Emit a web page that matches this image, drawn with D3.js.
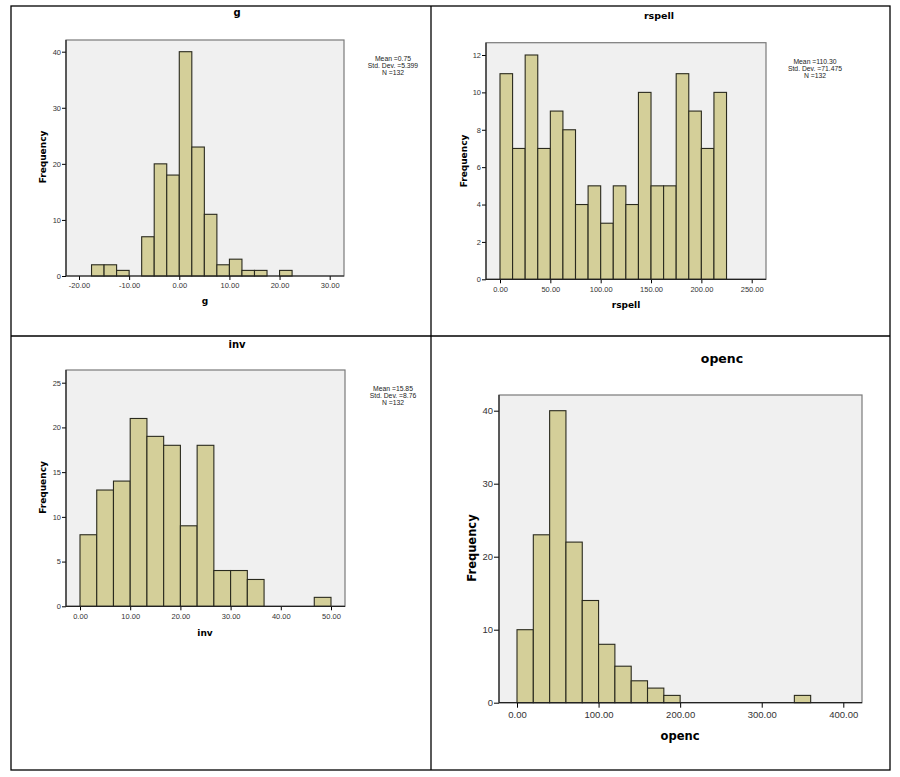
<!DOCTYPE html>
<html>
<head>
<meta charset="utf-8">
<script src="https://cdn.jsdelivr.net/npm/d3@7"></script>
<style>
  body { margin: 0; background: #fff; }
</style>
</head>
<body>
<script>
const width = 900
const height = 777

// bin counts (zero bins are not drawn)
const gStart = -17.5, gStep = 2.5
const gCounts = [2, 2, 1, 0, 7, 20, 18, 40, 23, 11, 2, 3, 1, 1, 0, 1]
const gXTicks = [-20, -10, 0, 10, 20, 30]
const gYTicks = [0, 10, 20, 30, 40]
const gStats = ["Mean =0.75", "Std. Dev. =5.399", "N =132"]

const rspellStart = 0, rspellStep = 12.5
const rspellCounts = [11, 7, 12, 7, 9, 8, 4, 5, 3, 5, 4, 10, 5, 5, 11, 9, 7, 10]
const rspellXTicks = [0, 50, 100, 150, 200, 250]
const rspellYTicks = [0, 2, 4, 6, 8, 10, 12]
const rspellStats = ["Mean =110.30", "Std. Dev. =71.475", "N =132"]

const invStart = 0, invStep = 10 / 3
const invCounts = [8, 13, 14, 21, 19, 18, 9, 18, 4, 4, 3, 0, 0, 0, 1]
const invXTicks = [0, 10, 20, 30, 40, 50]
const invYTicks = [0, 5, 10, 15, 20, 25]
const invStats = ["Mean =15.85", "Std. Dev. =8.76", "N =132"]

const opencStart = 0, opencStep = 20
const opencCounts = [10, 23, 40, 22, 14, 8, 5, 3, 2, 1, 0, 0, 0, 0, 0, 0, 0, 1]
const opencXTicks = [0, 100, 200, 300, 400]
const opencYTicks = [0, 10, 20, 30, 40]

const svg = d3.select("body").append("svg")
    .attr("width", width)
    .attr("height", height)

// table grid around the four charts
const grid = svg.append("g").attr("stroke", "#000").attr("stroke-width", 1.3).attr("fill", "none")
grid.append("rect").attr("x", 11).attr("y", 6).attr("width", 879).attr("height", 764)
grid.append("line").attr("x1", 431).attr("x2", 431).attr("y1", 6).attr("y2", 770)
grid.append("line").attr("x1", 11).attr("x2", 890).attr("y1", 336).attr("y2", 336)

const boldFont = "DejaVu Sans, Verdana, sans-serif"
const plainFont = "Liberation Sans, Arial, sans-serif"

function histogram(o) {
    const x = d3.scaleLinear().domain(d3.extent(o.xTicks)).range(o.xRange)
    const y = d3.scaleLinear().domain(d3.extent(o.yTicks)).range(o.yRange)
    const f = o.frame
    const g = svg.append("g")

    if (o.clip) {
        svg.append("clipPath").attr("id", o.clip.id)
          .append("rect").attr("x", 0).attr("y", 0).attr("width", o.clip.x).attr("height", height)
    }

    g.append("rect")
        .attr("x", f.x0).attr("y", f.y0)
        .attr("width", f.x1 - f.x0).attr("height", f.y1 - f.y0)
        .attr("fill", "#f0f0f0")
        .attr("stroke", "#7a7a7a")
        .attr("stroke-width", 1.2)

    const bins = o.counts.map((n, i) => ({x0: o.start + i * o.step, x1: o.start + (i + 1) * o.step, n}))
        .filter(d => d.n > 0)

    g.append("g")
      .selectAll("rect")
      .data(bins)
      .join("rect")
        .attr("x", d => x(d.x0))
        .attr("y", d => y(d.n))
        .attr("width", d => x(d.x1) - x(d.x0))
        .attr("height", d => y(0) - y(d.n))
        .attr("fill", "#d4cf99")
        .attr("stroke", "#2a2a1e")
        .attr("stroke-width", 1.1)

    let xAxis = a => a
        .attr("transform", `translate(0,${f.y1})`)
        .call(d3.axisBottom(x).tickValues(o.xTicks).tickFormat(d => d.toFixed(2))
            .tickSize(o.tick).tickPadding(o.xPad))
        .call(a => a.select(".domain").remove())
        .call(a => a.append("line").attr("x1", f.x0).attr("x2", f.x1).attr("stroke", "#222").attr("stroke-width", 1.2))
        .call(a => a.selectAll("text").attr("fill", "#333"))
        .attr("font-family", plainFont)
        .attr("font-size", o.tickFont)

    let yAxis = a => a
        .attr("transform", `translate(${f.x0},0)`)
        .call(d3.axisLeft(y).tickValues(o.yTicks).tickFormat(d3.format("d"))
            .tickSize(o.tick).tickPadding(1))
        .call(a => a.select(".domain").remove())
        .call(a => a.append("line").attr("y1", f.y0).attr("y2", f.y1).attr("stroke", "#222").attr("stroke-width", 1.2))
        .call(a => a.selectAll("text").attr("fill", "#333"))
        .attr("font-family", plainFont)
        .attr("font-size", o.tickFont)

    g.append("g").call(xAxis)
    g.append("g").call(yAxis)

    g.append("text")
        .attr("x", o.titlePos[0]).attr("y", o.titlePos[1])
        .attr("text-anchor", "middle")
        .attr("font-family", boldFont).attr("font-weight", "bold")
        .attr("font-size", o.titleFont)
        .text(o.title)

    g.append("text")
        .attr("x", o.xLabelPos[0]).attr("y", o.xLabelPos[1])
        .attr("text-anchor", "middle")
        .attr("font-family", boldFont).attr("font-weight", "bold")
        .attr("font-size", o.labelFont)
        .text(o.title)

    g.append("text")
        .attr("transform", `translate(${o.yLabelPos[0]},${o.yLabelPos[1]}) rotate(-90)`)
        .attr("text-anchor", "middle")
        .attr("dominant-baseline", "central")
        .attr("font-family", boldFont).attr("font-weight", "bold")
        .attr("font-size", o.labelFont)
        .text("Frequency")

    if (o.stats) {
        const s = g.append("g")
            .attr("font-family", plainFont)
            .attr("font-size", 6.8)
            .attr("fill", "#222")
            .attr("text-anchor", "middle")
        if (o.clip) s.attr("clip-path", `url(#${o.clip.id})`)
        s.selectAll("text")
          .data(o.stats)
          .join("text")
            .attr("x", o.statsPos[0])
            .attr("y", (d, i) => o.statsPos[1] + i * 7.2)
            .text(d => d)
    }
}

histogram({
    title: "g", counts: gCounts, start: gStart, step: gStep,
    xTicks: gXTicks, yTicks: gYTicks, stats: gStats,
    xRange: [79, 329.7], yRange: [276, 51.7],
    frame: {x0: 66, x1: 344, y0: 40, y1: 276},
    tick: 4, xPad: 3, tickFont: 7.5, titleFont: 10, labelFont: 9,
    titlePos: [237, 16], xLabelPos: [205, 304], yLabelPos: [43, 157],
    statsPos: [393, 60.5]
})

histogram({
    title: "rspell", counts: rspellCounts, start: rspellStart, step: rspellStep,
    xTicks: rspellXTicks, yTicks: rspellYTicks, stats: rspellStats,
    xRange: [500, 751.7], yRange: [279.3, 55],
    frame: {x0: 486, x1: 766, y0: 42.7, y1: 279.3},
    tick: 4, xPad: 3, tickFont: 7.5, titleFont: 9.5, labelFont: 9,
    titlePos: [659, 19], xLabelPos: [626, 308], yLabelPos: [464, 161],
    statsPos: [815, 64]
})

histogram({
    title: "inv", counts: invCounts, start: invStart, step: invStep,
    xTicks: invXTicks, yTicks: invYTicks, stats: invStats,
    xRange: [80, 331], yRange: [606.3, 382.7],
    frame: {x0: 66, x1: 345, y0: 370, y1: 606.3},
    tick: 4, xPad: 3, tickFont: 7.5, titleFont: 10, labelFont: 9,
    titlePos: [237, 347.5], xLabelPos: [205, 635.5], yLabelPos: [43, 487.5],
    statsPos: [393, 391], clip: {id: "invclip", x: 418}
})

histogram({
    title: "openc", counts: opencCounts, start: opencStart, step: opencStep,
    xTicks: opencXTicks, yTicks: opencYTicks,
    xRange: [517, 843.3], yRange: [702.7, 410.7],
    frame: {x0: 499, x1: 862, y0: 395, y1: 702.7},
    tick: 5, xPad: 4, tickFont: 9.5, titleFont: 12.5, labelFont: 11.5,
    titlePos: [722, 363], xLabelPos: [680, 740], yLabelPos: [471.7, 548]
})
</script>
</body>
</html>
